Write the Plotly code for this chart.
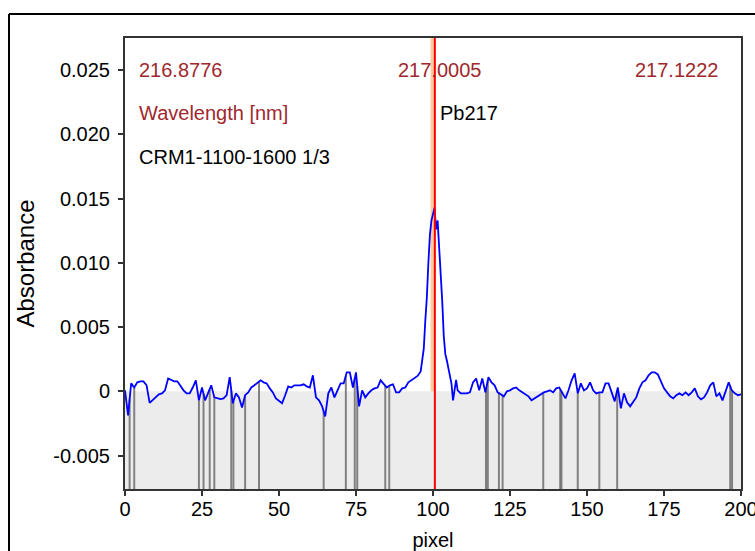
import numpy as np
import plotly.graph_objects as go

# ---- data ----
pixels = list(range(0, 96)) + [96, 96.5, 97, 97.5, 98, 98.5, 99, 99.5, 100, 100.5, 101, 101.5,
                               102, 102.5, 103, 103.5, 104, 104.5, 105, 105.5, 106, 106.5, 107,
                               107.5, 108] + list(range(109, 201))

absorbance = [
    # 0-9
    0.00008, -0.00187, 0.00062, 0.00030, 0.00070, 0.00078, 0.00078, 0.00047, -0.00090, -0.00070,
    # 10-19
    -0.00047, -0.00023, -0.00016, 0.00008, 0.00100, 0.00086, 0.00078, 0.00078, 0.00039, 0.00008,
    # 20-29
    -0.00016, -0.00016, 0.00030, 0.00086, -0.00070, 0.00030, -0.00070, -0.00016, 0.00047, -0.00047,
    # 30-39
    -0.00055, -0.00060, -0.00055, -0.00030, 0.00110, -0.00093, -0.00016, -0.00047, -0.00125, -0.00030,
    # 40-49
    -0.00008, 0.00030, 0.00047, 0.00070, 0.00086, 0.00070, 0.00062, 0.00023, -0.00008, -0.00055,
    # 50-59
    -0.00078, -0.00093, -0.00030, 0.00039, 0.00030, 0.00047, 0.00047, 0.00047, 0.00055, 0.00039,
    # 60-69
    0.00030, 0.00125, -0.00047, -0.00070, -0.00117, -0.00195, -0.00016, 0.00030, -0.00047, 0.00008,
    # 70-79
    0.00062, 0.00062, 0.00148, 0.00148, 0.00030, 0.00148, -0.00117, 0.00008, -0.00047, -0.00016,
    # 80-89
    0.00008, 0.00023, 0.00030, 0.00086, 0.00062, 0.00030, 0.00047, 0.00055, -0.00008, -0.00008,
    # 90-95
    0.00023, 0.00030, 0.00070, 0.00085, 0.00100, 0.00120,
    # 96-108 (half steps)
    0.00155, 0.00240, 0.00330, 0.00550, 0.00730, 0.01000, 0.01220, 0.01330, 0.01390, 0.01430,
    0.01260, 0.01330, 0.01120, 0.00950, 0.00700, 0.00430, 0.00290, 0.00240, 0.00180, 0.00130,
    0.00060, -0.00070, 0.00030, 0.00090, 0.00008,
    # 109-119
    -0.00016, -0.00016, -0.00016, -0.00008, 0.00070, 0.00100, 0.00008, 0.00100, -0.00008, 0.00110, 0.00070,
    # 120-129
    0.00047, -0.00008, -0.00023, -0.00039, 0.00000, 0.00008, 0.00023, 0.00030, 0.00008, -0.00008,
    # 130-139
    -0.00023, -0.00039, -0.00070, -0.00055, -0.00039, -0.00023, -0.00008, 0.00000, 0.00008, -0.00008,
    # 140-149
    0.00023, 0.00030, -0.00016, -0.00055, 0.00008, 0.00086, 0.00140, -0.00016, 0.00062, 0.00008,
    # 150-159
    0.00023, 0.00070, 0.00008, -0.00016, -0.00008, -0.00008, 0.00062, 0.00062, -0.00008, -0.00078,
    # 160-169
    0.00030, -0.00132, -0.00016, -0.00086, -0.00117, -0.00086, -0.00047, 0.00023, 0.00070, 0.00086,
    # 170-179
    0.00125, 0.00148, 0.00148, 0.00132, 0.00070, 0.00023, -0.00008, -0.00039, -0.00055, -0.00030,
    # 180-189
    -0.00016, -0.00030, -0.00008, -0.00030, -0.00008, 0.00023, -0.00039, -0.00062, -0.00047, -0.00008,
    # 190-200
    0.00047, 0.00070, -0.00039, -0.00016, -0.00070, -0.00008, 0.00070, 0.00008, -0.00016, -0.00030, -0.00023,
]

bad_pixels = [1.5, 3, 24, 25.5, 27.5, 29, 34.5, 35.2, 39, 43.5, 64.5, 71.7, 74.6, 75.4, 84.5,
              85.8, 117.2, 117.8, 121.4, 122.6, 135.8, 141.3, 141.7, 147, 154, 159.8, 196.5, 197.1]

line_pixel = 100.6
band_pixels = [99.2, 100.4]

x_ticks = [0, 25, 50, 75, 100, 125, 150, 175, 200]
y_ticks = [-0.005, 0, 0.005, 0.010, 0.015, 0.020, 0.025]
y_ticklabels = ["-0.005", "0", "0.005", "0.010", "0.015", "0.020", "0.025"]

wl_left, wl_mid, wl_right = "216.8776", "217.0005", "217.1222"
element_label = "Pb217"
sample_label = "CRM1-1100-1600 1/3"

# ---- figure ----
Y_MIN, Y_MAX = -0.0076, 0.0275
FONT = "Liberation Sans, Arial, sans-serif"
DARKRED = "#a0282d"

fig = go.Figure()

# bad pixel markers
tops = np.interp(bad_pixels, pixels, absorbance)
gx, gy = [], []
for p, t in zip(bad_pixels, tops):
    gx += [p, p, None]
    gy += [Y_MIN, float(t), None]
fig.add_trace(go.Scatter(x=gx, y=gy, mode="lines",
                         line=dict(color="rgba(110,110,110,0.85)", width=2),
                         hoverinfo="skip", showlegend=False))

fig.add_trace(go.Scatter(x=pixels, y=absorbance, mode="lines",
                         line=dict(color="#0000ff", width=1.8),
                         showlegend=False))

shapes = [
    dict(type="rect", xref="x", yref="y", x0=0, x1=200, y0=Y_MIN, y1=0,
         fillcolor="#ececec", line=dict(width=0), layer="below"),
    dict(type="rect", xref="x", yref="paper", x0=band_pixels[0], x1=band_pixels[1], y0=0, y1=1,
         fillcolor="#fccc9e", line=dict(width=0), layer="below"),
    dict(type="line", xref="x", yref="paper", x0=line_pixel, x1=line_pixel, y0=0, y1=1,
         line=dict(color="#ff0000", width=2), layer="above"),
    # outer frame
    dict(type="line", xref="paper", yref="paper", x0=-0.1883, x1=-0.1883, y0=-0.2, y1=1.0532,
         line=dict(color="black", width=2)),
    dict(type="line", xref="paper", yref="paper", x0=-0.1883, x1=1.1, y0=1.0532, y1=1.0532,
         line=dict(color="black", width=2)),
]

annotations = [
    dict(text=wl_left, xref="paper", yref="paper", x=0.0195, y=0.929, xanchor="left",
         yanchor="middle", showarrow=False, font=dict(color=DARKRED, size=20, family=FONT)),
    dict(text=wl_mid, xref="paper", yref="paper", x=0.510, y=0.929, xanchor="center",
         yanchor="middle", showarrow=False, font=dict(color=DARKRED, size=20, family=FONT)),
    dict(text=wl_right, xref="paper", yref="paper", x=0.966, y=0.929, xanchor="right",
         yanchor="middle", showarrow=False, font=dict(color=DARKRED, size=20, family=FONT)),
    dict(text="Wavelength [nm]", xref="paper", yref="paper", x=0.0195, y=0.834, xanchor="left",
         yanchor="middle", showarrow=False, font=dict(color=DARKRED, size=20, family=FONT)),
    dict(text=element_label, xref="paper", yref="paper", x=0.508, y=0.834, xanchor="left",
         yanchor="middle", showarrow=False, font=dict(color="black", size=20, family=FONT)),
    dict(text=sample_label, xref="paper", yref="paper", x=0.0195, y=0.736, xanchor="left",
         yanchor="middle", showarrow=False, font=dict(color="black", size=20, family=FONT)),
]

fig.update_layout(
    width=755, height=551, autosize=False,
    margin=dict(l=125, r=14, t=38, b=62, pad=0),
    paper_bgcolor="white", plot_bgcolor="white",
    font=dict(family=FONT, size=20, color="black"),
    shapes=shapes, annotations=annotations,
    xaxis=dict(range=[0, 200], tickvals=x_ticks, showgrid=False, zeroline=False,
               showline=True, linecolor="#333333", linewidth=2, mirror=True,
               ticks="outside", ticklen=5, tickwidth=1.5, tickcolor="#333333",
               ticklabelstandoff=-4, ticklabeloverflow="allow", automargin=False,
               title=dict(text="pixel", font=dict(size=20), standoff=20)),
    yaxis=dict(range=[Y_MIN, Y_MAX], tickvals=y_ticks, ticktext=y_ticklabels,
               showgrid=False, zeroline=False, automargin=False,
               showline=True, linecolor="#333333", linewidth=2, mirror=True,
               ticks="outside", ticklen=5, tickwidth=1.5, tickcolor="#333333",
               ticklabelstandoff=4,
               title=dict(text="Absorbance", font=dict(size=24), standoff=12)),
)

fig.write_html("out.html")
